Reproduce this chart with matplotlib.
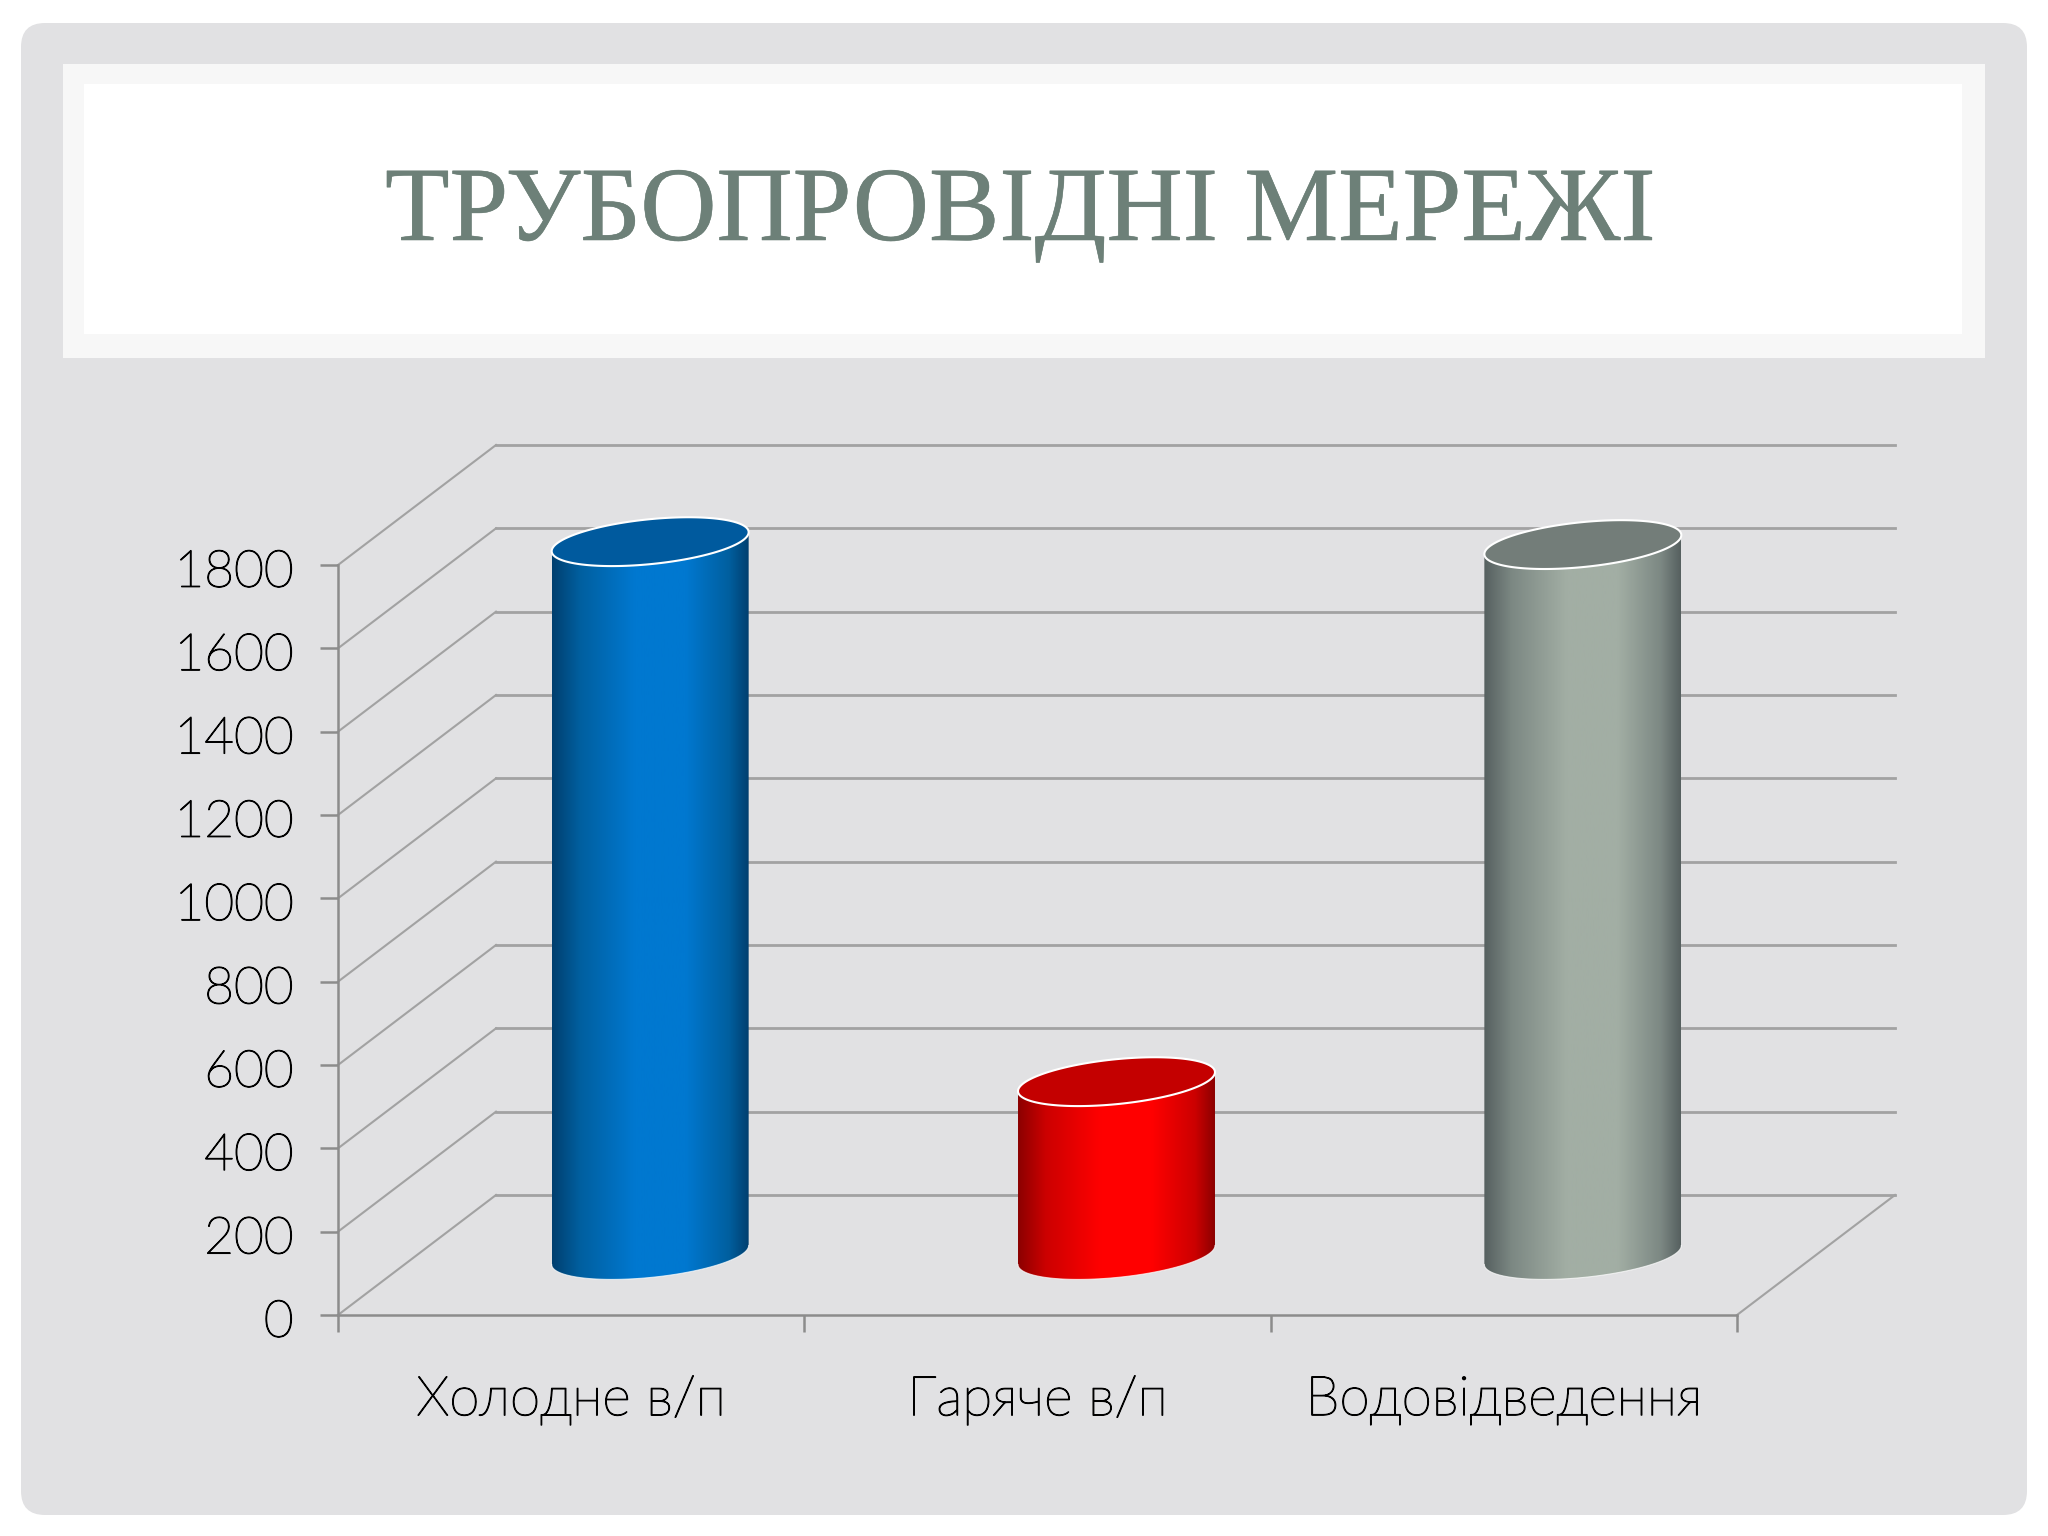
import matplotlib
matplotlib.use('Agg')
import matplotlib.pyplot as plt
import matplotlib.patheffects as pe
import numpy as np
from matplotlib.patches import FancyBboxPatch, Rectangle, PathPatch
from matplotlib.path import Path
from matplotlib.colors import LinearSegmentedColormap
from matplotlib.transforms import ScaledTranslation

title = 'ТРУБОПРОВІДНІ МЕРЕЖІ'
categories = ['Холодне в/п', 'Гаряче в/п', 'Водовідведення']
values = [1712, 416, 1705]
y_ticks = [0, 200, 400, 600, 800, 1000, 1200, 1400, 1600, 1800]

# edge, shoulder, centre, top face
edge_colors = ['#003f6f', '#8c0000', '#566060']
shoulder_colors = ['#005f9f', '#cc0000', '#7c8883']
mid_colors = ['#0078d0', '#ff0000', '#a2aea4']
top_colors = ['#005a9e', '#c40000', '#737d79']

W, H = 2048, 1536
X0, X1, Y0, Y1 = 338, 1737, 1315, 565
GRID = '#a2a2a2'
AXIS = '#8c8c8c'
SANS = ['Lato', 'Open Sans', 'DejaVu Sans']
INK = [pe.withStroke(linewidth=0.9, foreground='black')]

fig = plt.figure(figsize=(W / 100, H / 100), dpi=100, facecolor='white')

# slide background
bg = fig.add_axes([0, 0, 1, 1])
bg.set_xlim(0, W)
bg.set_ylim(H, 0)
bg.axis('off')
bg.add_patch(FancyBboxPatch((21 + 24, 23 + 24), 2006 - 48, 1492 - 48, boxstyle='round,pad=24,rounding_size=24',
                            fc='#e1e1e3', ec='none'))
bg.add_patch(Rectangle((63, 64), 1922, 294, fc='#f7f7f7', ec='none'))
bg.add_patch(Rectangle((84, 84), 1878, 250, fc='white', ec='none'))
bg.text(1020, 240, title, ha='center', va='baseline', fontsize=76, color='#6d8078', family='Liberation Serif',
        path_effects=[pe.withStroke(linewidth=0.4, foreground='#6d8078')])

# chart
ax = fig.add_axes([X0 / W, 1 - Y0 / H, (X1 - X0) / W, (Y0 - Y1) / H])
ax.patch.set_alpha(0)
ax.set_xlim(0, 3)
ax.set_ylim(0, 1800)
depth_x = 158 / ((X1 - X0) / 3)
depth_y = 120 / ((Y0 - Y1) / 1800)

# back wall, side wall and floor
for v in y_ticks:
    ax.plot([depth_x, 3 + depth_x], [v + depth_y, v + depth_y], color=GRID, lw=2.0, clip_on=False, zorder=1)
    ax.plot([0, depth_x], [v, v + depth_y], color=GRID, lw=1.5, clip_on=False, zorder=1)
ax.plot([3, 3 + depth_x], [0, depth_y], color=GRID, lw=1.5, clip_on=False, zorder=1)

for s in ['top', 'right']:
    ax.spines[s].set_visible(False)
for s in ['left', 'bottom']:
    ax.spines[s].set_color(AXIS)
    ax.spines[s].set_linewidth(1.8)

ax.set_yticks(y_ticks)
ax.set_xticks([0, 1, 2, 3])
ax.set_xticklabels([])
ax.set_xticks([0.5, 1.5, 2.5], minor=True)
ax.set_xticklabels(categories, minor=True, family=SANS, fontsize=39.5, color='black', weight='light',
                   path_effects=INK)
ax.tick_params(axis='x', which='major', length=12.5, width=1.8, color=AXIS, direction='out')
ax.tick_params(axis='x', which='minor', length=0, pad=43)
ax.tick_params(axis='y', length=13, width=1.8, color=AXIS, pad=19, labelsize=37)
shift = ScaledTranslation(0, -3 / 100, fig.dpi_scale_trans)
for lab in ax.get_yticklabels():
    lab.set_family(SANS)
    lab.set_weight('light')
    lab.set_color('black')
    lab.set_path_effects(INK)
    lab.set_transform(lab.get_transform() + shift)

# cylinders
half_w = 0.2112
skew = 22.8
semi = 54
t_low = np.linspace(np.pi, 2 * np.pi, 80)
t_all = np.linspace(0, 2 * np.pi, 160)


def arc(cx, cy, t):
    return np.column_stack([cx + half_w * np.cos(t), cy + skew * np.cos(t) + semi * np.sin(t)])


for i, val in enumerate(values):
    cx = i + 0.5 + depth_x / 2
    base = depth_y / 2
    top = base + val
    body = np.vstack([arc(cx, base, t_low), arc(cx, top, t_low)[::-1]])
    cmap = LinearSegmentedColormap.from_list('c', [(0, edge_colors[i]), (0.14, shoulder_colors[i]), (0.42, mid_colors[i]),
                                                   (0.68, mid_colors[i]), (0.9, shoulder_colors[i]), (1, edge_colors[i])])
    im = ax.imshow(np.linspace(0, 1, 256).reshape(1, -1), cmap=cmap, aspect='auto', zorder=3,
                   extent=[cx - half_w, cx + half_w, base - 100, top + 100])
    im.set_clip_box(fig.bbox)
    im.set_clip_path(PathPatch(Path(body, closed=False), transform=ax.transData))
    ax.plot(*arc(cx, base, t_low).T, color='white', lw=0.8, alpha=0.7, zorder=4, clip_on=False)
    face = arc(cx, top, t_all)
    ax.fill(face[:, 0], face[:, 1], facecolor=top_colors[i], edgecolor='white', lw=1.5, zorder=5, clip_on=False)

ax.set_xlim(0, 3)
ax.set_ylim(0, 1800)

plt.savefig('out.png', dpi=100, facecolor='white')
